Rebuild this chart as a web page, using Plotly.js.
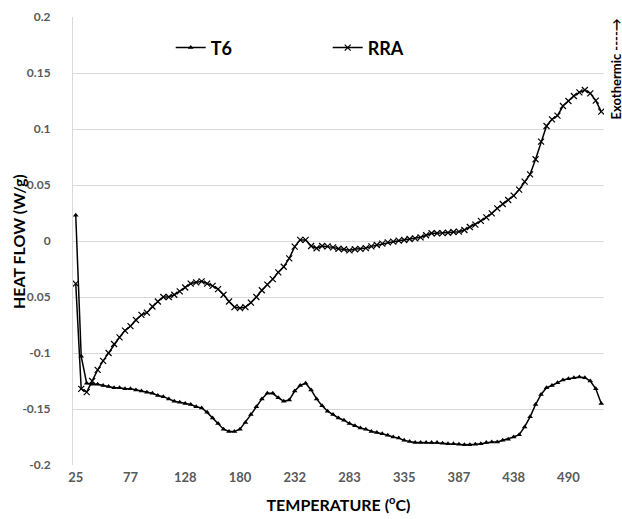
<!DOCTYPE html>
<html>
<head>
<meta charset="utf-8">
<script src="https://cdn.plot.ly/plotly-3.0.1.min.js"></script>
<style>html,body{margin:0;padding:0;background:#fff;}#chart{width:622px;height:519px;}</style>
</head>
<body>
<div id="chart"></div>
<script>
// Temperature categories (°C)
var temperature = ["25","30","35","41","46","51","56","61","66","72","77","82","87","92","97","103","108","113","118","123",
"128","134","139","144","149","154","159","165","170","175","180","185","190","196","201","206","211","216","221","227",
"232","237","242","247","252","258","263","268","273","278","283","289","294","299","304","309","314","320","325","330",
"335","340","345","351","356","361","366","371","376","382","387","392","397","402","407","413","418","423","428","433",
"438","444","449","454","459","464","469","475","480","485","490","495","500","506","511","516","521"];

// Heat flow (W/g), T6
var t6 = [0.023,-0.103,-0.127,-0.128,-0.128,-0.129,-0.130,-0.131,-0.131,-0.132,
-0.132,-0.133,-0.134,-0.135,-0.136,-0.138,-0.139,-0.141,-0.143,-0.144,
-0.145,-0.146,-0.148,-0.149,-0.153,-0.158,-0.163,-0.168,-0.170,-0.170,
-0.168,-0.162,-0.155,-0.148,-0.141,-0.136,-0.136,-0.140,-0.143,-0.142,
-0.134,-0.129,-0.127,-0.133,-0.141,-0.147,-0.152,-0.155,-0.158,-0.160,
-0.163,-0.165,-0.167,-0.168,-0.170,-0.171,-0.172,-0.1735,-0.175,-0.176,
-0.178,-0.179,-0.180,-0.180,-0.180,-0.180,-0.180,-0.1805,-0.181,-0.181,
-0.1815,-0.182,-0.182,-0.1815,-0.181,-0.180,-0.1795,-0.1795,-0.178,-0.177,
-0.175,-0.173,-0.166,-0.157,-0.146,-0.137,-0.131,-0.129,-0.1265,-0.124,
-0.123,-0.122,-0.1215,-0.122,-0.125,-0.132,-0.145];

// Heat flow (W/g), RRA
var rra = [-0.038,-0.132,-0.135,-0.125,-0.115,-0.107,-0.100,-0.092,-0.086,-0.080,
-0.076,-0.0705,-0.066,-0.064,-0.0585,-0.054,-0.050,-0.050,-0.048,-0.045,
-0.0415,-0.038,-0.037,-0.036,-0.038,-0.040,-0.043,-0.048,-0.054,-0.059,
-0.060,-0.059,-0.055,-0.050,-0.044,-0.039,-0.034,-0.028,-0.023,-0.0155,
-0.005,0.001,0.001,-0.0045,-0.0065,-0.0045,-0.0048,-0.0057,-0.0069,-0.0074,
-0.0083,-0.0074,-0.0071,-0.0063,-0.0048,-0.0036,-0.0024,-0.0012,-0.0006,0.0003,
0.0009,0.0018,0.0024,0.0033,0.0051,0.0069,0.0069,0.0071,0.0074,0.008,
0.0083,0.0098,0.0125,0.0146,0.0179,0.0211,0.0247,0.0292,0.033,0.0366,
0.0405,0.0458,0.053,0.0595,0.073,0.0887,0.1027,0.1086,0.1119,0.1205,
0.125,0.1295,0.1327,0.1348,0.1318,0.1253,0.1155];

var xTickVals = ["25","77","128","180","232","283","335","387","438","490"];
var yTickVals = [-0.2,-0.15,-0.1,-0.05,0,0.05,0.1,0.15,0.2];
var yTickText = ["-0.2","-0.15","-0.1","0.05","0","0.05","0.1","0.15","0.2"];

var FONT = "Lato, Open Sans, Liberation Sans, sans-serif";

var traces = [
  {x: temperature, y: t6, name: "<b>T6</b>", type: "scatter", mode: "lines+markers",
   line: {color: "#000", width: 1.5},
   marker: {symbol: "triangle-up", size: 5, color: "#000"}},
  {x: temperature, y: rra, name: "<b>RRA</b>", type: "scatter", mode: "lines+markers",
   line: {color: "#000", width: 1.5},
   marker: {symbol: "x-thin", size: 6, color: "#000", line: {color: "#000", width: 1.2}}}
];

var layout = {
  width: 622, height: 519,
  margin: {l: 73, r: 18, t: 17, b: 54},
  paper_bgcolor: "#fff", plot_bgcolor: "#fff",
  font: {family: FONT, color: "#000"},
  showlegend: true,
  legend: {orientation: "h", x: 0.184, y: 0.931, xanchor: "left", yanchor: "middle",
    font: {family: FONT, size: 18, color: "#000"}, entrywidth: 112, bgcolor: "rgba(0,0,0,0)"},
  xaxis: {type: "category", range: [-0.5, 96.5], tickmode: "array", tickvals: xTickVals,
    ticks: "", showgrid: false, zeroline: false, showline: false, ticklabelstandoff: 3,
    tickfont: {family: FONT, size: 13, color: "#595959", weight: "bold"},
    title: {text: "<b>TEMPERATURE (<sup>o</sup>C)</b>", font: {family: FONT, size: 16, color: "#000"}, standoff: 15}},
  yaxis: {range: [-0.2, 0.2], tickmode: "array", tickvals: yTickVals, ticktext: yTickText,
    automargin: false,
    showgrid: true, gridcolor: "#d9d9d9", gridwidth: 1, zeroline: false,
    showline: true, linecolor: "#d9d9d9", linewidth: 1, ticks: "", ticklabelstandoff: 19,
    tickfont: {family: FONT, size: 12, color: "#595959", weight: "bold"}},
  annotations: [
    {text: "<b>HEAT FLOW (W/g)</b>", xref: "paper", yref: "paper", x: -0.1036, y: 0.5,
     xanchor: "center", yanchor: "middle", textangle: -90, showarrow: false,
     font: {family: FONT, size: 16, color: "#000"}},
    {text: "<b>Exothermic ----→</b>", xref: "paper", yref: "paper", x: 1.0, y: 1.0,
    xanchor: "left", yanchor: "top", xshift: 1, textangle: -90, showarrow: false,
    font: {family: FONT, size: 13, color: "#000"}}]
};

Plotly.newPlot("chart", traces, layout, {displayModeBar: false, staticPlot: true});
</script>
</body>
</html>
